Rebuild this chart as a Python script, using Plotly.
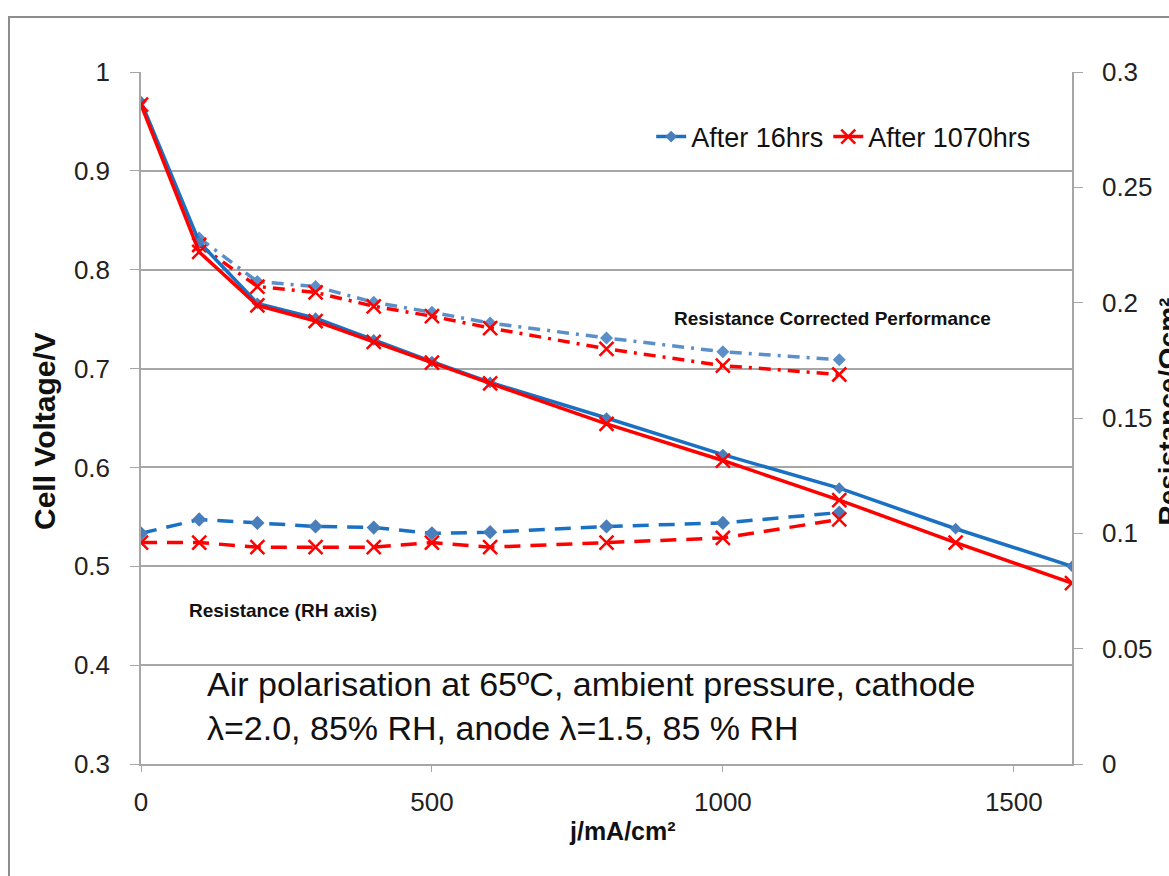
import plotly.graph_objects as go

# ---- data ----
j_full = [0, 100, 200, 300, 400, 500, 600, 800, 1000, 1200, 1400, 1600]
v_16h = [0.970, 0.828, 0.766, 0.751, 0.729, 0.707, 0.686, 0.650, 0.613, 0.579, 0.538, 0.500]
v_1070h = [0.967, 0.818, 0.764, 0.748, 0.727, 0.706, 0.685, 0.644, 0.607, 0.567, 0.524, 0.483]

j_ir = [100, 200, 300, 400, 500, 600, 800, 1000, 1200]
vir_16h = [0.832, 0.788, 0.783, 0.767, 0.757, 0.746, 0.731, 0.717, 0.709]
vir_1070h = [0.825, 0.783, 0.777, 0.763, 0.753, 0.741, 0.720, 0.703, 0.694]

j_res = [0, 100, 200, 300, 400, 500, 600, 800, 1000, 1200]
res_16h = [0.100, 0.106, 0.1045, 0.103, 0.1025, 0.100, 0.1005, 0.103, 0.1045, 0.109]
res_1070h = [0.096, 0.096, 0.094, 0.094, 0.094, 0.096, 0.094, 0.096, 0.098, 0.106]

x_ticks = [0, 500, 1000, 1500]
y_ticks = [0.3, 0.4, 0.5, 0.6, 0.7, 0.8, 0.9, 1.0]
y_ticktext = ["0.3", "0.4", "0.5", "0.6", "0.7", "0.8", "0.9", "1"]
y2_ticks = [0, 0.05, 0.1, 0.15, 0.2, 0.25, 0.3]
y2_ticktext = ["0", "0.05", "0.1", "0.15", "0.2", "0.25", "0.3"]

BLUE = "#1A70C2"
BLUE_M = "#4A7EBB"
BLUE_L = "#5B8FC9"
RED = "#FF0000"
GRID = "#A6A6A6"
FONT = "Liberation Sans, Arial, sans-serif"

fig = go.Figure()

# resistance corrected (dash-dot)
fig.add_trace(go.Scatter(x=j_ir, y=vir_16h, mode="lines+markers", showlegend=False,
                         line=dict(color=BLUE_L, width=3.5, dash="12px,7px,3px,7px"),
                         marker=dict(symbol="diamond", size=10, color=BLUE_L)))
fig.add_trace(go.Scatter(x=j_ir, y=vir_1070h, mode="lines+markers", showlegend=False,
                         line=dict(color=RED, width=3.5, dash="12px,7px,3px,7px"),
                         marker=dict(symbol="x-thin", size=14, line=dict(color=RED, width=2.5))))

# resistance (dashed, right axis)
fig.add_trace(go.Scatter(x=j_res, y=res_16h, mode="lines+markers", showlegend=False, yaxis="y2",
                         line=dict(color=BLUE, width=3.5, dash="16px,10px"),
                         marker=dict(symbol="diamond", size=11, color=BLUE_M)))
fig.add_trace(go.Scatter(x=j_res, y=res_1070h, mode="lines+markers", showlegend=False, yaxis="y2",
                         line=dict(color=RED, width=3.5, dash="16px,10px"),
                         marker=dict(symbol="x-thin", size=14, line=dict(color=RED, width=2.5))))

# polarisation curves (solid)
fig.add_trace(go.Scatter(x=j_full, y=v_16h, mode="lines+markers", name="After 16hrs",
                         line=dict(color=BLUE, width=3.5),
                         marker=dict(symbol="diamond", size=9, color=BLUE_M)))
fig.add_trace(go.Scatter(x=j_full, y=v_1070h, mode="lines+markers", name="After 1070hrs",
                         line=dict(color=RED, width=3.5),
                         marker=dict(symbol="x-thin", size=14, line=dict(color=RED, width=2.5))))

fig.update_layout(
    width=1169, height=876,
    margin=dict(l=141, r=97, t=72, b=112),
    paper_bgcolor="white", plot_bgcolor="white",
    font=dict(family=FONT, size=26, color="#222222"),
    legend=dict(orientation="h", x=0.548, y=0.906, xanchor="left", yanchor="middle",
                bgcolor="rgba(0,0,0,0)", font=dict(size=27, color="#111111"),
                itemwidth=30, tracegroupgap=0),
    xaxis=dict(range=[0, 1600], tickvals=x_ticks, showgrid=False, zeroline=False,
               showline=True, linecolor=GRID, linewidth=1.5, ticks="outside", ticklen=6,
               tickcolor=GRID, ticklabelstandoff=8),
    yaxis=dict(range=[0.3, 1.0], tickvals=y_ticks, ticktext=y_ticktext, showgrid=True,
               gridcolor=GRID, gridwidth=1.5, zeroline=False, showline=True, linecolor=GRID,
               linewidth=1.5, ticks="outside", ticklen=9, tickcolor=GRID, ticklabelstandoff=15),
    yaxis2=dict(range=[0, 0.3], tickvals=y2_ticks, ticktext=y2_ticktext, overlaying="y",
                side="right", showgrid=False, zeroline=False, showline=True, linecolor=GRID,
                linewidth=1.5, ticks="outside", ticklen=9, tickcolor=GRID, ticklabelstandoff=14),
    shapes=[
        dict(type="rect", xref="paper", yref="paper", x0=(185 - 141) / 931, x1=(1010 - 141) / 931,
             y0=(764 - 760) / 692, y1=(764 - 655) / 692, fillcolor="white", line=dict(width=0),
             layer="below"),
        dict(type="rect", xref="paper", yref="paper", x0=-0.1418, x1=1.3, y0=-0.3, y1=1.0795,
             fillcolor="rgba(0,0,0,0)", line=dict(color="#8C8C8C", width=2)),
    ],
    annotations=[
        dict(text="<b>Cell Voltage/V</b>", xref="paper", yref="paper", x=(44 - 141) / 931,
             y=(764 - 431) / 692, textangle=-90, showarrow=False, font=dict(size=30, color="#111111"),
             xanchor="center", yanchor="middle"),
        dict(text="<b>Resistance/Ωcm²</b>", xref="paper", yref="paper", x=(1150 - 141) / 931,
             y=(764 - 412) / 692, textangle=-90, showarrow=False, font=dict(size=28, color="#111111"),
             xanchor="left", yanchor="middle"),
        dict(text="<b>j/mA/cm²</b>", xref="paper", yref="paper", x=(622 - 141) / 931, y=(764 - 831) / 692,
             showarrow=False, font=dict(size=25, color="#111111"), xanchor="center", yanchor="middle"),
        dict(text="<b>Resistance Corrected Performance</b>", xref="paper", yref="paper",
             x=(672 - 141) / 931, y=(764 - 318) / 692, showarrow=False,
             font=dict(size=19, color="#111111"), xanchor="left", yanchor="middle"),
        dict(text="<b>Resistance (RH axis)</b>", xref="paper", yref="paper",
             x=(187 - 141) / 931, y=(764 - 610) / 692, showarrow=False,
             font=dict(size=19, color="#111111"), xanchor="left", yanchor="middle"),
        dict(text="Air polarisation at 65ºC, ambient pressure, cathode<br>λ=2.0, 85% RH, anode λ=1.5, 85 % RH",
             xref="paper", yref="paper", x=(205 - 141) / 931, y=(764 - 706) / 692,
             showarrow=False, align="left", font=dict(size=34, color="#111111"),
             xanchor="left", yanchor="middle"),
    ],
)

fig.write_html("out.html")
